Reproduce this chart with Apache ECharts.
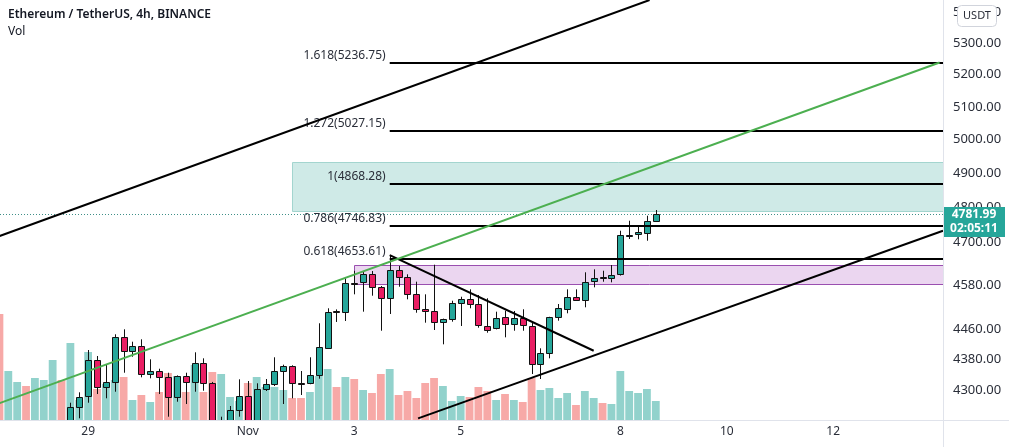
<!DOCTYPE html>
<html><head><meta charset="utf-8">
<script src="https://cdn.jsdelivr.net/npm/echarts@6/dist/echarts.min.js"></script>
<style>html,body{margin:0;padding:0;background:#fff}#c{width:1009px;height:447px}</style>
</head><body><div id="c"></div>
<script>
// ---- data ----
const titleText = 'Ethereum / TetherUS, 4h, BINANCE';
const volTitle = 'Vol';
const firstCandleSlot = 8;            // 4h slot index of first visible candle (slot 0 = 27 Oct 08:00)
// [open, close, low, high]
const candles = [
 [4212.0,4257.0,4197.0,4267.2],[4258.0,4282.7,4227.3,4294.0],[4282.7,4377.6,4267.2,4404.9],[4377.6,4307.0,4289.6,4389.0],
 [4307.0,4320.8,4278.6,4365.3],[4320.8,4438.7,4295.6,4446.8],[4438.7,4402.2,4345.0,4460.2],[4402.2,4416.3,4387.1,4427.0],
 [4416.3,4341.6,4333.0,4433.4],[4341.6,4348.7,4330.4,4380.3],[4348.7,4333.0,4289.6,4355.5],[4333.0,4281.1,4231.4,4345.0],
 [4281.1,4335.6,4269.8,4338.0],[4335.6,4320.0,4263.9,4345.0],[4320.0,4369.8,4295.6,4398.8],[4369.8,4317.4,4298.2,4382.9],
 [4317.4,4212.0,4200.0,4321.0],[4212.0,4222.0,4195.0,4231.4],[4222.0,4248.5,4210.0,4258.8],[4248.5,4285.3,4231.4,4327.8],
 [4285.3,4218.0,4205.0,4323.4],[4218.0,4301.8,4210.0,4317.4],[4301.8,4315.6,4297.4,4328.6],[4315.6,4348.7,4310.4,4385.6],
 [4348.7,4362.6,4263.9,4366.1],[4362.6,4317.4,4278.6,4364.5],[4317.8,4317.0,4287.1,4349.5],[4317.4,4338.2,4315.0,4385.6],
 [4338.2,4412.0,4329.4,4476.4],[4412.0,4507.8,4407.5,4517.0],[4508.5,4508.0,4480.0,4514.0],[4508.0,4587.1,4482.6,4599.3],
 [4587.6,4587.1,4555.2,4620.0],[4587.1,4610.4,4507.8,4619.6],[4610.4,4574.4,4551.4,4619.6],[4574.4,4544.3,4456.4,4578.0],
 [4544.3,4621.6,4501.5,4664.3],[4621.6,4602.1,4576.1,4633.5],[4602.1,4556.0,4541.5,4610.4],[4556.0,4514.3,4505.0,4590.0],
 [4514.3,4508.8,4478.0,4555.2],[4508.8,4479.1,4458.3,4637.2],[4479.1,4487.2,4420.0,4489.0],[4487.2,4530.6,4480.7,4537.7],
 [4530.6,4541.5,4469.1,4548.6],[4541.5,4527.9,4517.0,4568.9],[4527.9,4469.9,4464.5,4553.3],[4469.9,4460.2,4451.1,4544.3],
 [4466.0,4492.0,4460.0,4507.8],[4492.6,4473.7,4438.7,4510.5],[4473.7,4489.9,4456.4,4509.7],[4489.9,4471.8,4456.4,4514.3],
 [4469.9,4367.9,4341.6,4480.7],[4367.9,4396.1,4328.6,4409.4],[4396.1,4492.6,4382.9,4494.0],[4492.6,4517.0,4483.4,4528.7],
 [4517.0,4548.6,4503.4,4568.9],[4548.6,4539.6,4539.0,4568.9],[4539.6,4589.9,4519.7,4616.0],[4591.8,4601.0,4574.4,4624.3],
 [4602.5,4602.1,4589.9,4620.4],[4602.1,4609.3,4588.2,4636.3],[4609.3,4720.0,4607.0,4733.1],[4721.5,4722.0,4709.5,4761.7],
 [4722.9,4728.6,4708.7,4746.5],[4728.6,4761.7,4704.7,4776.1],[4761.7,4781.99,4758.0,4792.5]
];
// volume (thousand ETH) per slot, from slot 0
const volumes = [10.6,4.9,3.8,3.4,4.2,4.0,6.0,4.0, 7.7,2.0,6.8,3.1,3.6,4.0,4.3,2.0, 2.5,1.8,2.8,4.7,4.4,2.8,5.5,2.8,
 4.8,4.6,2.3,1.9,3.7,4.3,3.3,3.3, 3.0,2.2,2.2,2.8,4.4,5.1,3.3,4.3, 4.1,3.0,2.7,4.6,5.1,2.5,2.9,2.2,
 3.7,4.2,3.4,1.9,2.4,2.3,3.3,2.9, 2.0,2.6,2.0,1.8,4.2,3.0,3.2,2.2, 2.7,1.5,2.9,2.2,1.7,1.6,4.9,2.9, 2.7,3.1,1.9];
const volDirs = 'duuduuud' + 'uuuduudu' + 'duddudud' + 'duuuduuu' + 'udduuudu' + 'dudduddd' + 'dduuuddd' + 'ududduuu' + 'uduuduuu' + 'uuu';
const tickSlots = [10, 28, 40, 52, 70, 82, 94];
const tickLabels = ['29', 'Nov', '3', '5', '8', '10', '12'];
const priceTicks = [4300, 4380, 4460, 4580, 4700, 4800, 4900, 5000, 5100, 5200, 5300, 5400];
const fibStartSlot = 44;
const fibLevels = [1.618, 1.272, 1, 0.786, 0.618];
const fibPrices = [5236.75, 5027.15, 4868.28, 4746.83, 4653.61];
const lastPrice = 4781.99;
const countdown = '02:05:11';
// drawings: [slot, price]
const upperChannel = [[0, 4718], [73.3, 5439]];
const greenLine = [[0, 4266], [106, 5238]];
const lowerChannel = [[47.2, 4227], [106.38, 4733]];
const downTrend = [[44, 4664], [67, 4403]];
// zones: [startSlot, low, high]
const supplyZone = [33, 4789.6, 4933.1];
const demandZone = [40, 4583.6, 4637.5];

// ---- view ----
const X_MIN = 0.064, X_MAX = 106.38;
const P_MIN = 4223, P_MAX = 5439;
const UP = '#26a69a', DOWN = '#e91e63';
const FONT = "'Noto Sans','Open Sans',sans-serif";
const L = Math.log;

const chart = echarts.init(document.getElementById('c'), null, {renderer: 'canvas'});

function candleItem(params, api) {
  const x = api.value(0), o = api.value(1), c = api.value(2), lo = api.value(3), hi = api.value(4);
  const po = api.coord([x, o]), pc = api.coord([x, c]), pl = api.coord([x, lo]), ph = api.coord([x, hi]);
  const cx = Math.round(po[0]) + 0.5;
  const top = Math.min(po[1], pc[1]), bot = Math.max(po[1], pc[1]);
  return {type: 'group', children: [
    {type: 'line', shape: {x1: cx, y1: ph[1], x2: cx, y2: pl[1]}, style: {stroke: '#111', lineWidth: 1}},
    {type: 'rect', shape: {x: cx - 3, y: Math.round(top) + 0.5, width: 6, height: Math.max(Math.round(bot - top), 1)},
     style: {fill: c >= o ? UP : DOWN, stroke: '#111', lineWidth: 1}}
  ]};
}
function volItem(params, api) {
  const x = api.value(0), v = api.value(1);
  const p = api.coord([x, v]), b = api.coord([x, 0]);
  const up = volDirs[params.dataIndex] === 'u';
  return {type: 'rect', shape: {x: p[0] - 3.9, y: p[1], width: 7.8, height: b[1] - p[1]},
    style: {fill: up ? 'rgba(38,166,154,0.5)' : 'rgba(239,83,80,0.5)'}};
}
const zoneStyles = [
  {fill: '#cfeae7', stroke: '#a3d5cf'},
  {fill: '#ebd6f0', stroke: '#9a4fb0'}
];
function zoneItem(params, api) {
  const p1 = api.coord([api.value(0), api.value(2)]);
  const p2 = api.coord([X_MAX, api.value(1)]);
  return {type: 'rect', shape: {x: Math.round(p1[0]) + 0.5, y: Math.round(p1[1]) + 0.5, width: p2[0] - p1[0] + 2, height: Math.round(p2[1] - p1[1])},
    style: Object.assign({lineWidth: 1}, zoneStyles[params.dataIndex])};
}
function fibItem(params, api) {
  const p1 = api.coord([api.value(0), api.value(1)]);
  const p2 = api.coord([X_MAX, api.value(1)]);
  const k = api.value(2);
  const y = Math.round(p1[1]);
  return {type: 'group', children: [
    {type: 'line', shape: {x1: p1[0], y1: y, x2: p2[0], y2: y}, style: {stroke: '#000', lineWidth: 2}},
    {type: 'text', x: p1[0] - 4, y: y - 7.5, style: {text: fibLevels[k] + '(' + fibPrices[k].toFixed(2) + ')',
      align: 'right', verticalAlign: 'middle', fill: '#2a2e39', font: '12px ' + FONT}}
  ]};
}
function lastItem(params, api) {
  const pa = api.coord([X_MIN, api.value(1)]);
  const pb = api.coord([X_MAX, api.value(1)]);
  const y = Math.round(pa[1]) + 0.5;
  return {type: 'group', children: [
    {type: 'line', shape: {x1: pa[0], y1: y, x2: pb[0], y2: y}, style: {stroke: '#3f8f88', lineWidth: 1, lineDash: [1, 2]}},
    {type: 'rect', shape: {x: pb[0], y: y - 7.5, width: 62, height: 30}, style: {fill: UP}},
    {type: 'text', x: pb[0] + 31, y: y - 6, style: {text: lastPrice.toFixed(2), align: 'center', verticalAlign: 'top',
      fill: '#fff', font: 'bold 12px ' + FONT}},
    {type: 'text', x: pb[0] + 31, y: y + 8, style: {text: countdown, align: 'center', verticalAlign: 'top',
      fill: '#fff', font: 'bold 12px ' + FONT}}
  ]};
}
function lineSeries(pts, color, width) {
  return {type: 'line', data: pts.map(p => [p[0], L(p[1])]), symbol: 'none', clip: true, z: 5,
    lineStyle: {color: color, width: width}, silent: true, animation: false};
}

const option = {
  animation: false,
  grid: {left: 0, top: 0, width: 943, height: 420, containLabel: false},
  xAxis: {type: 'value', min: X_MIN, max: X_MAX, axisLine: {show: false}, axisTick: {show: false}, splitLine: {show: false},
    axisLabel: {customValues: tickSlots, margin: 6, color: '#2a2e39', fontSize: 12, fontFamily: FONT,
      formatter: v => tickLabels[tickSlots.indexOf(Math.round(v))] || ''}},
  yAxis: [
    {type: 'value', position: 'right', min: L(P_MIN), max: L(P_MAX), axisLine: {show: false}, axisTick: {show: false},
      splitLine: {show: false},
      axisLabel: {customValues: priceTicks.map(L), margin: 10, color: '#2a2e39', fontSize: 13, fontFamily: FONT,
        formatter: v => Math.exp(v).toFixed(2)}},
    {type: 'value', min: 0, max: 42, show: false}
  ],
  series: [
    {type: 'custom', renderItem: zoneItem, data: [supplyZone, demandZone].map(z => [z[0], L(z[1]), L(z[2])]), z: 1, clip: true, silent: true},
    {type: 'custom', renderItem: volItem, yAxisIndex: 1, data: volumes.map((v, i) => [i, v]), z: 2, clip: true, silent: true},
    {type: 'custom', renderItem: lastItem, data: [[X_MIN, L(lastPrice)]], z: 3, clip: false, silent: true},
    {type: 'custom', renderItem: candleItem, encode: {x: 0, y: [1, 2, 3, 4]}, z: 4, clip: true, silent: true,
      data: candles.map((c, k) => [firstCandleSlot + k, L(c[0]), L(c[1]), L(c[2]), L(c[3])])},
    lineSeries(upperChannel, '#000', 2),
    lineSeries(lowerChannel, '#000', 2),
    lineSeries(downTrend, '#000', 2),
    lineSeries(greenLine, '#4caf50', 2),
    {type: 'custom', renderItem: fibItem, data: fibPrices.map((p, k) => [fibStartSlot, L(p), k]), z: 5, clip: false, silent: true}
  ],
  graphic: [
    {type: 'line', shape: {x1: 943.5, y1: 0, x2: 943.5, y2: 447}, style: {stroke: '#e0e3eb', lineWidth: 1}, z: 10},
    {type: 'line', shape: {x1: 0, y1: 420.5, x2: 1009, y2: 420.5}, style: {stroke: '#e0e3eb', lineWidth: 1}, z: 10},
    {type: 'text', left: 8, top: 9, style: {text: titleText, fill: '#131722', font: '600 12px ' + FONT}, z: 10},
    {type: 'text', left: 8, top: 26, style: {text: volTitle, fill: '#131722', font: '12px ' + FONT}, z: 10},
    {type: 'group', left: 957, top: 5, zlevel: 2, z: 100, children: [
      {type: 'rect', zlevel: 2, z: 100, shape: {x: 0, y: 0, width: 39, height: 21, r: 4}, style: {fill: '#fff', stroke: '#d1d4dc', lineWidth: 1}},
      {type: 'text', zlevel: 2, z: 101, x: 19.5, y: 10.5, style: {text: 'USDT', align: 'center', verticalAlign: 'middle', fill: '#2a2e39', font: '11px ' + FONT}}
    ]}
  ]
};
chart.setOption(option);
</script></body></html>
